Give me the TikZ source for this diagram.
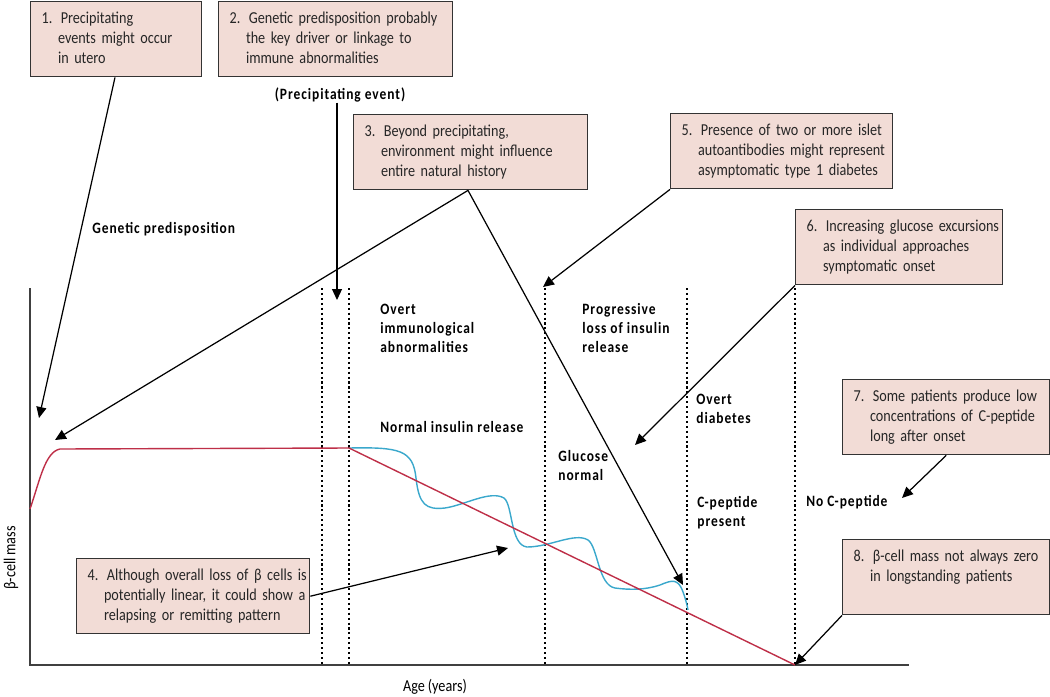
\documentclass[tikz,border=0pt]{standalone}
\usepackage{fontspec}
\setmainfont[FakeStretch=0.85, WordSpace=0.9]{Carlito}
\newfontfamily\lblfont[FakeStretch=0.85, LetterSpace=6]{Carlito}
\usetikzlibrary{arrows.meta}
\definecolor{notefill}{HTML}{F2DCD6}
\definecolor{massred}{HTML}{BE2F48}
\definecolor{excblue}{HTML}{3AA8CC}
\newcommand{\ind}{\phantom{0.\ }}
\newcommand{\notetext}[4]{\begin{tabular}{@{}l@{}}#1 #2\\\ind#3\\\ind#4\end{tabular}}
\tikzset{
  note/.style={draw=black!80, line width=0.8pt, fill=notefill, anchor=north west, align=left,
    inner xsep=0.22cm, inner ysep=0pt, minimum height=1.5cm, text=black!85, font=\fontsize{9.5}{11.4}\selectfont},
  lbl/.style={font=\lblfont\bfseries\fontsize{9}{10.8}\selectfont, align=left, anchor=west, inner sep=0pt},
  arr/.style={-{Triangle[length=0.22cm,width=0.2cm]}, line width=0.7pt},
  stage/.style={line width=0.8pt, dash pattern=on 1.2pt off 1.6pt},
}

\begin{document}
\begin{tikzpicture}[x=0.02cm,y=-0.02cm]
\useasboundingbox (0,0) rectangle (1050,696);
%axes
\draw[line width=0.7pt, black!75] (30,288) -- (30,665) -- (909,665);
\node[rotate=90, font=\fontsize{9.5}{10}\selectfont] (ylab) at (11,558) {β-cell mass};
\node[font=\fontsize{9.5}{10}\selectfont] (xlab) at (435,687) {Age (years)};
%stage borders
\foreach \x in {322,349,545,687,795}{
\draw[stage] (\x,288) -- (\x,665);
}
%beta cell mass
\draw[excblue, line width=0.8pt] (349,448) .. controls (400,447) and (413,450) .. (416,478)
  .. controls (419,505) and (426,510) .. (445,508)
  .. controls (465,505) and (490,490) .. (504,498)
  .. controls (513,505) and (510,545) .. (527,547)
  .. controls (550,547) and (575,532) .. (588,540)
  .. controls (598,547) and (598,585) .. (615,588)
  .. controls (630,590) and (645,590) .. (660,585)
  .. controls (672,580) and (678,578) .. (683,592)
  .. controls (686,600) and (687,605) .. (688,610);
\draw[massred, line width=0.8pt] (30,509) .. controls (40,480) and (45,452) .. (60,449)
  -- (349,448) -- (795,665);
%stage labels
\node[lbl, anchor=center] (pe) at (340,95) {(Precipitating event)};
\node[lbl] (gp) at (92,229) {Genetic predisposition};
\node[lbl] (oia) at (380,328) {Overt\\immunological\\abnormalities};
\node[lbl] (nir) at (380,427) {Normal insulin release};
\node[lbl] (pli) at (582,328) {Progressive\\loss of insulin\\release};
\node[lbl] (gn) at (558,465.5) {Glucose\\normal};
\node[lbl] (od) at (696,409) {Overt\\diabetes};
\node[lbl] (cp) at (697,512.5) {C-peptide\\present};
\node[lbl] (ncp) at (806,502) {No C-peptide};
%notes
\node[note, text width=2.98cm] (n1) at (30,1) {\notetext{1.}{Precipitating}{events might occur}{in utero}};
\node[note, text width=4.24cm] (n2) at (218,1) {\notetext{2.}{Genetic predisposition probably}{the key driver or linkage to}{immune abnormalities}};
\node[note, text width=4.24cm] (n3) at (353,114) {\notetext{3.}{Beyond precipitating,}{environment might influence}{entire natural history}};
\node[note, text width=4.22cm] (n4) at (76,558) {\notetext{4.}{Although overall loss of β cells is}{potentially linear, it could show a}{relapsing or remitting pattern}};
\node[note, text width=4.00cm] (n5) at (670,113) {\notetext{5.}{Presence of two or more islet}{autoantibodies might represent}{asymptomatic type 1 diabetes}};
\node[note, text width=3.70cm] (n6) at (795,209) {\notetext{6.}{Increasing glucose excursions}{as individual approaches}{symptomatic onset}};
\node[note, text width=3.70cm] (n7) at (842,379) {\notetext{7.}{Some patients produce low}{concentrations of C-peptide}{long after onset}};
\node[note, text width=3.70cm] (n8) at (842,539) {\notetext{8.}{β-cell mass not always zero}{in longstanding patients}{}};
%arrow ends
\coordinate (t1) at (39,418);
\coordinate (t2) at (337,300);
\coordinate (t3a) at (55,440);
\coordinate (t3b) at (683,585);
\coordinate (t4) at (508,548);
\coordinate (t5) at (543,287);
\coordinate (t6) at (635,445);
\coordinate (t7) at (902,498);
\coordinate (t8) at (795,665);
\draw[arr] (n1.south -| 115,0) -- (t1);
\draw[arr] (pe.south -| t2) -- (t2);
\draw[arr] (n3.south -| 468,0) -- (t3a);
\draw[arr] (n3.south -| 468,0) -- (t3b);
\draw[arr] (n4.east) -- (t4);
\draw[arr] (n5.south west) -- (t5);
\draw[arr] (n6.south west) -- (t6);
\draw[arr] (n7.south) -- (t7);
\draw[arr] (n8.south west) -- (t8);
\end{tikzpicture}
\end{document}
